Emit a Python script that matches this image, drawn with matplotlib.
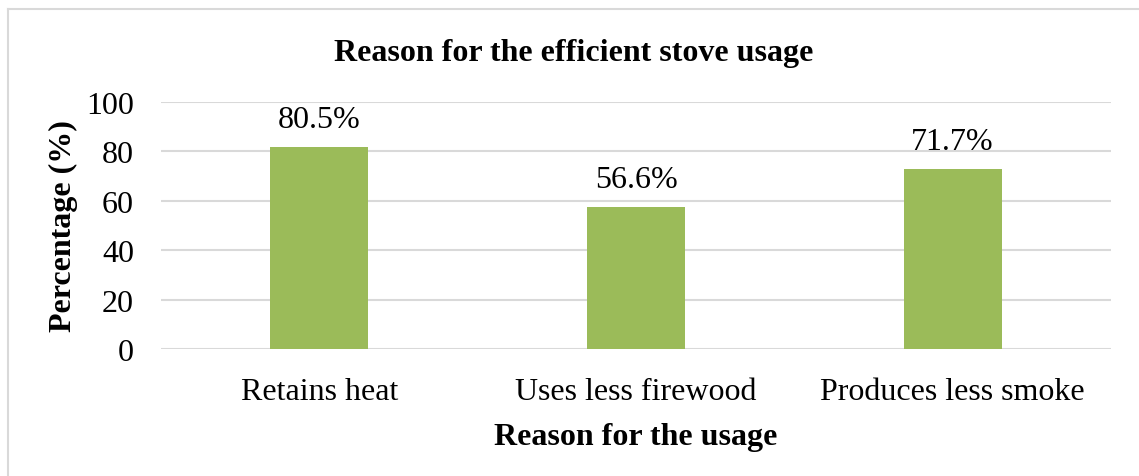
import matplotlib.pyplot as plt
from matplotlib.lines import Line2D

categories = ['Retains heat', 'Uses less firewood', 'Produces less smoke']
heights = [81.6, 57.4, 72.8]
labels = ['80.5%', '56.6%', '71.7%']
yticks = [0, 20, 40, 60, 80, 100]

plt.rcParams['font.family'] = ['Liberation Serif', 'DejaVu Serif']

fig = plt.figure(figsize=(11.39, 4.77), dpi=100)
ax = fig.add_axes([0.1414, 0.2662, 0.834, 0.518])

x = range(len(categories))
bars = ax.bar(x, heights, width=0.31, color='#9BBB59', zorder=2)
for b, lab in zip(bars, labels):
    ax.text(b.get_x() + b.get_width() / 2, b.get_height() + 5.5, lab,
            ha='center', va='bottom', fontsize=23)

ax.set_xlim(-0.5, 2.5)
ax.set_ylim(0, 100)
ax.set_yticks(yticks)
ax.set_xticks(list(x))
ax.set_xticklabels(categories, fontsize=23)
ax.tick_params(axis='y', labelsize=23, length=0, pad=19.5)
ax.tick_params(axis='x', length=0, pad=20)
ax.grid(axis='y', color='#d9d9d9', linewidth=1.5, zorder=0)
for s in ax.spines.values():
    s.set_visible(False)

ax.set_xlabel('Reason for the usage', fontsize=23, fontweight='bold', labelpad=12)
ax.set_ylabel('Percentage (%)', fontsize=23, fontweight='bold', labelpad=6)
fig.text(0.504, 0.887, 'Reason for the efficient stove usage', ha='center', va='center',
         fontsize=23, fontweight='bold')

# chart border (only top and left visible in the crop)
fig.add_artist(Line2D([8 / 1139, 1.0], [1 - 10 / 477, 1 - 10 / 477],
                      transform=fig.transFigure, color='#d9d9d9', linewidth=1.5))
fig.add_artist(Line2D([8 / 1139, 8 / 1139], [0, 1 - 10 / 477],
                      transform=fig.transFigure, color='#d9d9d9', linewidth=1.5))

fig.savefig('out.png', dpi=100)
